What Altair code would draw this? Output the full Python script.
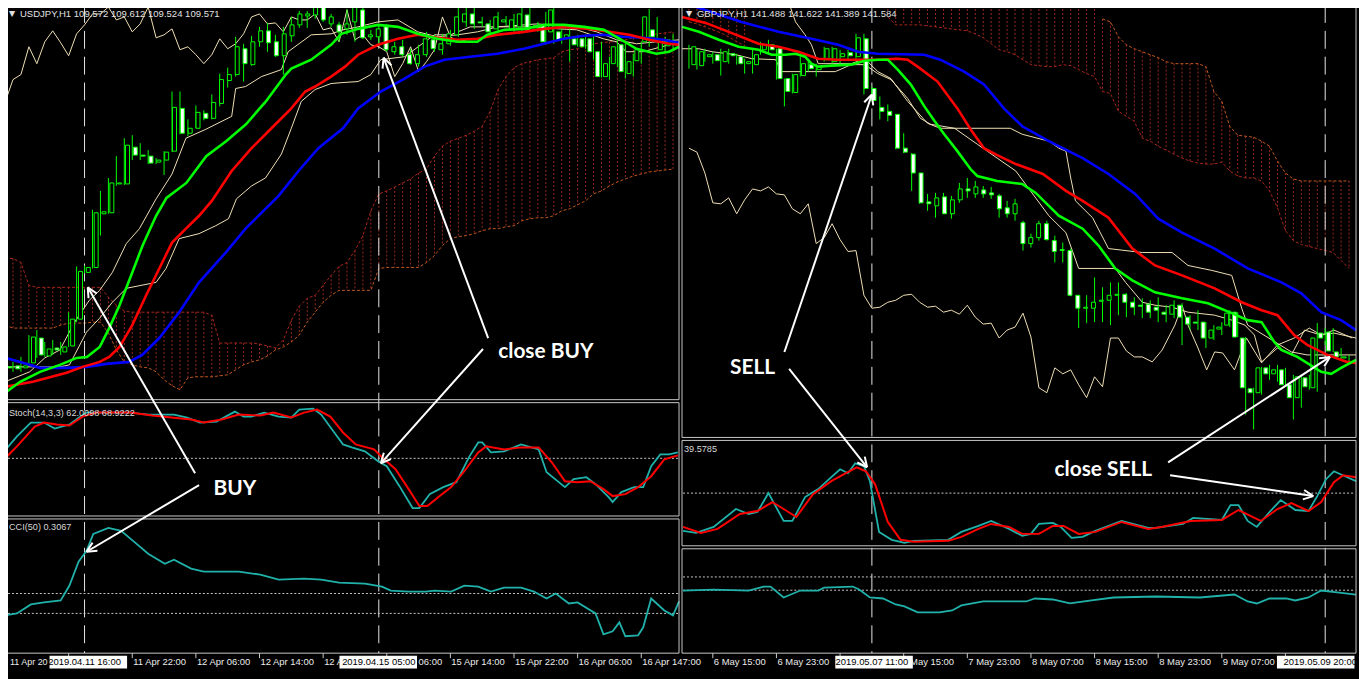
import math
import altair as alt
import pandas as pd

# ====================== USDJPY,H1 (left window) ======================
# bar 0 = 2019.04.11 06:00, one bar per hour
usd_open = [
    108.33, 108.34, 108.32, 108.37, 108.62, 108.44, 108.52, 108.48, 108.54, 108.81,
    109.28, 109.33, 109.87, 109.88, 110.17, 110.17, 110.54, 110.46, 110.45, 110.39,
    110.41, 110.50, 110.93, 110.68, 110.73, 110.88, 110.83, 110.98, 111.21, 111.27,
    111.53, 111.37, 111.60, 111.71, 111.60, 111.46, 111.66, 111.77, 111.86, 111.87,
    111.97, 111.78, 111.77, 111.73, 111.80, 111.92, 111.65, 111.65, 111.75, 111.50,
    111.55, 111.47, 111.38, 111.47, 111.62, 111.52, 111.58, 111.67, 111.80, 111.88,
    111.80, 111.78, 111.73, 111.80, 111.73, 111.75, 111.87, 111.76, 111.77, 111.70,
    111.70, 111.63, 111.63, 111.63, 111.63, 111.50, 111.25, 111.38, 111.57, 111.28,
    111.41, 111.60, 111.72, 111.52, 111.56]
usd_close = [
    108.32, 108.31, 108.34, 108.63, 108.45, 108.51, 108.50, 108.53, 108.81, 109.29,
    109.33, 109.88, 109.89, 110.18, 110.18, 110.56, 110.46, 110.45, 110.38, 110.41,
    110.49, 110.94, 110.68, 110.73, 110.89, 110.83, 110.99, 111.22, 111.27, 111.55,
    111.38, 111.60, 111.71, 111.59, 111.46, 111.68, 111.77, 111.88, 111.88, 111.95,
    111.82, 111.85, 111.70, 111.78, 111.95, 111.64, 111.67, 111.73, 111.52, 111.55,
    111.47, 111.38, 111.47, 111.63, 111.53, 111.58, 111.68, 111.85, 111.88, 111.78,
    111.79, 111.70, 111.85, 111.82, 111.82, 111.88, 111.72, 111.74, 111.60, 111.92,
    111.62, 111.67, 111.57, 111.55, 111.50, 111.25, 111.38, 111.55, 111.30, 111.40,
    111.52, 111.85, 111.65, 111.60, 111.62]
usd_high = [
    108.38, 108.38, 108.43, 108.65, 108.70, 108.58, 108.60, 108.58, 108.88, 109.34,
    109.35, 109.91, 110.10, 110.23, 110.45, 110.63, 110.66, 110.58, 110.51, 110.43,
    110.50, 111.10, 111.10, 110.82, 110.96, 110.91, 111.07, 111.28, 111.34, 111.65,
    111.58, 111.66, 111.75, 111.79, 111.67, 111.75, 111.85, 111.91, 111.91, 111.97,
    111.97, 111.88, 111.80, 111.93, 111.95, 111.95, 111.72, 111.78, 111.78, 111.60,
    111.62, 111.53, 111.57, 111.70, 111.67, 111.68, 111.72, 111.95, 111.95, 111.95,
    111.85, 111.82, 111.90, 111.86, 111.88, 111.94, 111.95, 111.80, 111.90, 111.95,
    111.75, 111.75, 111.67, 111.67, 111.67, 111.60, 111.45, 111.62, 111.58, 111.48,
    111.60, 111.93, 111.85, 111.65, 111.68]
usd_low = [
    108.28, 108.28, 108.28, 108.35, 108.42, 108.43, 108.45, 108.45, 108.53, 108.78,
    109.27, 109.32, 109.65, 109.87, 110.15, 110.16, 110.41, 110.41, 110.37, 110.37,
    110.26, 110.49, 110.67, 110.65, 110.73, 110.81, 110.82, 110.95, 111.14, 111.25,
    111.20, 111.36, 111.55, 111.50, 111.45, 111.27, 111.60, 111.74, 111.74, 111.83,
    111.80, 111.75, 111.60, 111.67, 111.60, 111.63, 111.62, 111.57, 111.50, 111.47,
    111.45, 111.37, 111.35, 111.45, 111.50, 111.47, 111.56, 111.65, 111.75, 111.73,
    111.75, 111.68, 111.70, 111.76, 111.70, 111.71, 111.70, 111.70, 111.57, 111.58,
    111.58, 111.40, 111.55, 111.53, 111.42, 111.24, 111.22, 111.35, 111.23, 111.25,
    111.38, 111.55, 111.60, 111.50, 111.53]
usd_cloud_top = [
    109.42, 109.42, 109.38, 109.15, 109.13, 109.13, 109.13, 109.13, 109.13, 109.13,
    109.13, 109.13, 109.13, 109.03, 108.95, 108.89, 108.88, 108.88, 108.88, 108.88,
    108.88, 108.88, 108.88, 108.88, 108.88, 108.88, 108.85, 108.57, 108.57, 108.57,
    108.57, 108.57, 108.56, 108.54, 108.52, 108.60, 108.80, 108.94, 109.02, 109.05,
    109.15, 109.25, 109.34, 109.38, 109.50, 109.65, 109.90, 110.07, 110.10, 110.14,
    110.18, 110.22, 110.28, 110.32, 110.45, 110.55, 110.60, 110.63, 110.66, 110.70,
    110.75, 110.90, 111.12, 111.25, 111.34, 111.38, 111.40, 111.42, 111.43, 111.44,
    111.50, 111.52, 111.53, 111.56, 111.58, 111.59, 111.60, 111.60, 111.62, 111.64,
    111.65, 111.66, 111.68, 111.69, 111.70]
usd_cloud_bottom = [
    108.75, 108.72, 108.72, 108.72, 108.72, 108.72, 108.72, 108.75, 108.77, 108.77,
    108.77, 108.78, 108.78, 108.67, 108.50, 108.38, 108.35, 108.33, 108.32, 108.28,
    108.20, 108.14, 108.10, 108.22, 108.23, 108.23, 108.23, 108.24, 108.25, 108.30,
    108.35, 108.38, 108.40, 108.44, 108.50, 108.53, 108.58, 108.65, 108.78, 108.88,
    108.98, 109.05, 109.10, 109.10, 109.10, 109.10, 109.10, 109.32, 109.33, 109.33,
    109.33, 109.33, 109.33, 109.38, 109.45, 109.55, 109.62, 109.64, 109.65, 109.67,
    109.70, 109.72, 109.72, 109.74, 109.75, 109.80, 109.82, 109.83, 109.83, 109.85,
    109.90, 109.92, 109.96, 110.00, 110.07, 110.10, 110.15, 110.19, 110.22, 110.25,
    110.27, 110.29, 110.30, 110.31, 110.32]
usd_ma_green = [(0, 108.07), (1.9, 108.18), (4.4, 108.28), (6.9, 108.35), (9, 108.42), (10.3, 108.43),
    (11.9, 108.53), (13.1, 108.72), (14.4, 108.95), (16, 109.28), (17.3, 109.55), (19, 109.85),
    (20.3, 110.03), (22.8, 110.18), (25.3, 110.45), (27.8, 110.60), (30.3, 110.77), (32.8, 111.00),
    (35.3, 111.27), (36, 111.33), (38.5, 111.42), (41, 111.57), (42.3, 111.68), (44.4, 111.73),
    (46.9, 111.77), (49.4, 111.75), (51.9, 111.68), (54.4, 111.63), (56.9, 111.60), (59.4, 111.60),
    (60.6, 111.67), (62.8, 111.72), (65.3, 111.73), (67.8, 111.77), (70.3, 111.77), (72.8, 111.75),
    (75.3, 111.72), (77.3, 111.63), (79.4, 111.53), (81.9, 111.48), (83.5, 111.50), (84.75, 111.55)]
usd_ma_red = [(0, 108.13), (3.5, 108.18), (7.75, 108.27), (9.75, 108.33), (11.9, 108.38), (13.1, 108.43),
    (14.4, 108.53), (16, 108.75), (17.75, 109.05), (19.4, 109.32), (21, 109.58), (22.75, 109.72),
    (24.4, 109.85), (26, 110.00), (28.5, 110.30), (31, 110.53), (33.5, 110.73), (36, 110.93),
    (37.75, 111.10), (39, 111.15), (41, 111.25), (42.75, 111.35), (44.4, 111.47), (46.9, 111.57),
    (49.4, 111.63), (51.9, 111.67), (54.4, 111.64), (56.9, 111.62), (59.4, 111.63), (61.9, 111.67),
    (65.25, 111.70), (67.75, 111.73), (70.25, 111.75), (73.5, 111.73), (76, 111.70), (78.5, 111.67),
    (81, 111.62), (83.5, 111.58), (84.75, 111.57)]
usd_ma_blue = [(0, 108.42), (1.9, 108.38), (4.4, 108.32), (7.75, 108.32), (10.25, 108.33), (12.75, 108.36),
    (15.6, 108.38), (17.25, 108.45), (19.4, 108.62), (21.9, 108.88), (24.4, 109.18), (27.75, 109.48),
    (30.25, 109.72), (32.75, 109.92), (34.4, 110.05), (36.9, 110.30), (39.4, 110.53), (42.5, 110.73),
    (44.4, 110.93), (47.25, 111.10), (50.25, 111.23), (52.75, 111.35), (55.25, 111.42), (58.5, 111.45),
    (61.9, 111.48), (65.25, 111.53), (67.75, 111.58), (70.25, 111.63), (72.75, 111.66), (75.25, 111.67),
    (77.75, 111.65), (80.25, 111.64), (82.75, 111.62), (84.75, 111.59)]
usd_tenkan = [(0, 108.18), (3.1, 108.28), (5, 108.42), (6.9, 108.50), (8.75, 108.78), (10.6, 109.00),
    (11.9, 109.10), (13.5, 109.28), (15.25, 109.57), (16.9, 109.72), (19, 110.02), (21, 110.27),
    (22.75, 110.63), (25.25, 110.72), (28.5, 110.85), (29, 111.13), (30.25, 111.15), (32.25, 111.25),
    (34.75, 111.32), (35.6, 111.50), (38.5, 111.67), (41, 111.68), (42.5, 111.72), (44.4, 111.75),
    (46.9, 111.80), (49.4, 111.82), (51.9, 111.70), (54.4, 111.65), (56.9, 111.67), (59.4, 111.70),
    (61.9, 111.75), (66.9, 111.78), (71.9, 111.75), (74.4, 111.70), (76.9, 111.62), (79.4, 111.58),
    (81.9, 111.60), (84.75, 111.62)]
usd_kijun = [(0, 108.33), (6.9, 108.33), (8.1, 108.35), (10.25, 108.68), (11.9, 108.82), (13.5, 108.98),
    (15.25, 109.12), (19, 109.18), (20.25, 109.32), (21.9, 109.62), (24.4, 109.67), (26.5, 109.75),
    (28.1, 109.82), (29.1, 110.02), (31, 110.15), (32.75, 110.23), (34.75, 110.47), (36, 110.73),
    (37.25, 111.00), (39, 111.12), (41, 111.18), (42.5, 111.19), (44.4, 111.20), (46, 111.27),
    (47.25, 111.42), (50.25, 111.45), (54, 111.67), (56, 111.67), (58.5, 111.75), (65.25, 111.75),
    (71.9, 111.72), (75.25, 111.63), (76.9, 111.60), (78.1, 111.50), (80.25, 111.50), (83.5, 111.57),
    (84.75, 111.58)]
usd_chikou = usd_close[26:]          # closes drawn 26 bars back
usd_stoch_main = [(-0.1, 57), (1.5, 72), (3.25, 86), (4.9, 86), (6.25, 80), (8.1, 84), (9.5, 92),
    (10.25, 96), (12.5, 96), (15.75, 96), (18, 94), (21.25, 94), (22.9, 91), (24.5, 86), (26.6, 87),
    (28.9, 97), (30, 92), (31, 92), (32.6, 96), (34.4, 92), (36, 91), (37, 99), (38.75, 100),
    (39.75, 94), (41.4, 76), (42.5, 64), (43.6, 61), (45.25, 57), (46.9, 47), (48, 42), (49.6, 22),
    (51.25, 0), (52.1, 0), (53.4, 14), (55.1, 21), (56.75, 26), (58.4, 52), (59.5, 66), (60, 66),
    (61.1, 56), (62.75, 57), (64.9, 64), (67.1, 59), (68.1, 36), (70.4, 21), (71.5, 29), (73.1, 31),
    (74.25, 24), (75.9, 11), (76.4, 6), (77.5, 16), (79.1, 21), (80.25, 21), (81.25, 42), (82.4, 54),
    (83.5, 54), (84.6, 56)]
usd_stoch_signal = [(-0.1, 49), (1.5, 62), (3.75, 82), (4.9, 86), (6.5, 84), (8.1, 83), (9.75, 92),
    (11.4, 96), (15.75, 96), (18.5, 93), (23.4, 89), (25, 86), (27.25, 89), (29.4, 94), (32.1, 93),
    (33.75, 96), (36, 91), (37.6, 96), (39.25, 99), (40.9, 92), (42.5, 76), (44.1, 64), (46.4, 59),
    (47.4, 51), (49.1, 39), (50.75, 19), (52.1, 2), (53.1, 2), (54.5, 11), (56.1, 21), (57.75, 37),
    (59.5, 56), (60.5, 62), (62.75, 59), (64.9, 61), (67.1, 61), (68.75, 46), (70.4, 27), (72, 26),
    (73.6, 27), (75.25, 19), (76.4, 12), (78, 14), (79.6, 21), (81.25, 32), (82.9, 49), (84.6, 53)]
usd_cci = [(-0.1, -120), (1.5, -100), (3.25, -10), (4.9, 10), (7, 30), (8.1, 180), (9.25, 420),
    (10.25, 530), (11.1, 700), (13, 760), (14.6, 730), (16.25, 620), (18, 500), (20.1, 400),
    (21.25, 440), (23.4, 350), (25, 320), (29.4, 320), (32.1, 290), (34.4, 240), (37.6, 250),
    (39.75, 240), (42, 210), (45.25, 200), (47.4, 170), (48.5, 130), (50.75, 120), (52.9, 120),
    (54, 130), (56.1, 120), (57.75, 180), (59.5, 170), (61.1, 120), (62.75, 160), (64.9, 160),
    (66.5, 120), (68.1, 50), (69.25, 100), (70.9, 0), (72, 10), (74.25, -100), (75.25, -310),
    (76.4, -280), (77.25, -190), (78, -330), (79.6, -320), (80.25, -240), (81.25, 50), (82.9, -70),
    (84, -120), (84.75, 20)]
usd_ticks = [0, 8, 16, 24, 32, 40, 48, 56, 64, 72, 80]
# time labels as far as they can be seen (the rest lies under the date boxes or the window edge)
usd_labels_first = [(0, "11 Apr 20")]
usd_labels_full = [(16, "11 Apr 22:00"), (24, "12 Apr 06:00"), (32, "12 Apr 14:00"),
                   (40, "12 A"), (56, "15 Apr 14:00"), (64, "15 Apr 22:00"), (72, "16 Apr 06:00"),
                   (80, "16 Apr 14")]
usd_labels_tail = [(52, "06:00")]
usd_marks = [10, 47]
usd_mark_labels = ["2019.04.11 16:00", "2019.04.15 05:00"]
usd_title = "USDJPY,H1  109.572 109.612 109.524 109.571"
usd_stoch_title = "Stoch(14,3,3) 62.0098 68.9222"
usd_cci_title = "CCI(50) 0.3067"
usd_notes = ["BUY", "close BUY"]
usd_note_at = [(28.9, 107.10), (68.0, 108.48)]
usd_arrows = [(23.9, 107.26, 10.4, 109.13), (24.4, 107.14, 10.25, 106.47),
              (60.75, 108.62, 47.6, 111.44), (60.1, 108.51, 47.25, 107.36)]

# ====================== GBPJPY,H1 (right window) ======================
# bar 0 = 2019.05.06 12:00
gbp_open = [
    145.37, 145.36, 145.45, 145.47, 145.40, 145.48, 145.45, 145.38, 145.37, 145.52,
    145.57, 145.53, 145.23, 145.09, 145.26, 145.37, 145.32, 145.42, 145.40, 145.45,
    145.49, 145.45, 145.63, 145.13, 144.94, 144.90, 144.87, 144.53, 144.47, 144.28,
    143.99, 143.95, 144.04, 143.87, 144.01, 144.12, 144.07, 144.11, 144.08, 144.05,
    143.93, 143.87, 143.78, 143.57, 143.63, 143.77, 143.60, 143.51, 143.50, 143.05,
    142.92, 142.92, 142.99, 143.00, 143.05, 143.06, 142.98, 142.95, 142.96, 142.93,
    142.88, 142.86, 142.95, 142.83, 142.78, 142.78, 142.62, 142.71, 142.75, 142.88,
    142.62, 142.11, 142.07, 142.32, 142.26, 142.30, 142.15, 142.02, 142.22, 142.12,
    142.67, 142.68, 142.48, 142.42]
gbp_close = [
    145.55, 145.50, 145.47, 145.41, 145.50, 145.46, 145.38, 145.40, 145.47, 145.57,
    145.52, 145.23, 145.10, 145.27, 145.38, 145.33, 145.35, 145.53, 145.53, 145.48,
    145.46, 145.64, 145.13, 145.01, 144.90, 144.86, 144.53, 144.49, 144.28, 143.98,
    143.97, 144.03, 143.87, 144.01, 144.12, 144.10, 144.14, 144.07, 144.06, 143.92,
    143.87, 143.97, 143.57, 143.63, 143.77, 143.61, 143.49, 143.50, 143.05, 142.92,
    142.93, 142.98, 143.00, 143.05, 143.06, 142.98, 142.93, 142.94, 142.88, 142.90,
    142.86, 142.95, 142.83, 142.76, 142.77, 142.62, 142.70, 142.73, 142.87, 142.63,
    142.12, 142.07, 142.32, 142.26, 142.30, 142.15, 142.02, 142.23, 142.13, 142.62,
    142.62, 142.49, 142.43, 142.43]
gbp_high = [
    145.57, 145.53, 145.53, 145.50, 145.53, 145.53, 145.48, 145.43, 145.52, 145.60,
    145.62, 145.53, 145.23, 145.28, 145.45, 145.40, 145.38, 145.55, 145.55, 145.52,
    145.52, 145.68, 145.68, 145.15, 145.05, 144.97, 144.87, 144.68, 144.48, 144.28,
    144.07, 144.08, 144.08, 144.05, 144.18, 144.23, 144.20, 144.15, 144.14, 144.07,
    144.00, 144.02, 143.80, 143.67, 143.80, 143.80, 143.65, 143.58, 143.52, 143.05,
    143.05, 143.23, 143.13, 143.18, 143.18, 143.07, 143.03, 143.02, 143.00, 143.03,
    142.95, 143.00, 142.97, 142.85, 142.90, 142.78, 142.75, 142.78, 142.90, 142.88,
    142.63, 142.12, 142.33, 142.35, 142.35, 142.32, 142.25, 142.25, 142.25, 142.77,
    142.72, 142.72, 142.52, 142.45]
gbp_low = [
    145.33, 145.32, 145.40, 145.38, 145.26, 145.38, 145.37, 145.28, 145.28, 145.47,
    145.48, 145.22, 144.95, 145.08, 145.25, 145.30, 145.25, 145.40, 145.38, 145.38,
    145.42, 145.43, 145.07, 145.00, 144.82, 144.80, 144.52, 144.48, 144.10, 143.97,
    143.90, 143.83, 143.87, 143.82, 143.98, 144.03, 144.03, 144.03, 144.02, 143.83,
    143.83, 143.80, 143.50, 143.53, 143.60, 143.60, 143.38, 143.38, 143.04, 142.72,
    142.77, 142.78, 142.78, 142.75, 142.85, 142.83, 142.85, 142.82, 142.82, 142.78,
    142.78, 142.82, 142.55, 142.70, 142.70, 142.52, 142.60, 142.65, 142.73, 142.63,
    141.85, 141.70, 142.05, 142.20, 142.18, 142.14, 141.80, 141.92, 142.10, 142.08,
    142.55, 142.48, 142.40, 142.38]
# None in top = cloud continues above the window; None in bottom = no cloud shown
gbp_cloud_top = [None] * 52 + [
    145.83, 145.80, 145.65, 145.57, 145.53, 145.50, 145.47, 145.44, 145.40, 145.38,
    145.38, 145.38, 145.38, 145.35, 145.10, 145.00, 144.75, 144.66, 144.65, 144.64,
    144.60, 144.55, 144.40, 144.28, 144.22, 144.20, 144.20, 144.20, 144.20, 144.20,
    144.20, 144.20]
gbp_cloud_bottom = [145.80, 145.78, 145.75, 145.72, 145.69, 145.65, 145.60, 145.56] + [None] * 17 + [
    145.85, 145.77, 145.77, 145.77, 145.77, 145.76, 145.75, 145.74, 145.73, 145.72,
    145.71, 145.68, 145.64, 145.58, 145.52, 145.50, 145.47, 145.42, 145.37, 145.36,
    145.35, 145.35, 145.37, 145.36, 145.32, 145.28, 145.25, 145.10, 145.08, 144.90,
    144.85, 144.80, 144.63, 144.60, 144.55, 144.51, 144.47, 144.43, 144.40, 144.38,
    144.37, 144.37, 144.39, 144.30, 144.25, 144.23, 144.23, 144.20, 144.10, 143.93,
    143.70, 143.60, 143.56, 143.54, 143.52, 143.50, 143.48, 143.40, 143.32]
gbp_ma_green = [(-0.875, 145.75), (1.25, 145.70), (3.75, 145.62), (6.25, 145.55), (8.75, 145.52),
    (10.4, 145.47), (12.1, 145.47), (13.4, 145.48), (14.6, 145.45), (15.4, 145.38), (16.25, 145.35),
    (17.9, 145.36), (20.4, 145.37), (22.1, 145.41), (23.75, 145.42), (25, 145.42), (26.25, 145.32),
    (27.9, 145.17), (29.6, 144.95), (30.9, 144.80), (32.1, 144.67), (33.75, 144.50), (35.4, 144.32),
    (36.25, 144.25), (38.75, 144.20), (41.9, 144.17), (43.6, 144.08), (46.5, 143.85), (49.5, 143.72),
    (51.5, 143.55), (53.6, 143.32), (55.75, 143.20), (58.6, 143.08), (62, 143.02), (65.25, 142.97),
    (68.25, 142.87), (70.25, 142.80), (72, 142.78), (73.6, 142.58), (74.5, 142.50), (76.5, 142.43),
    (79.5, 142.28), (80.75, 142.26), (82, 142.32), (83.875, 142.40)]
gbp_ma_red = [(-0.875, 145.85), (2.1, 145.79), (5, 145.70), (8.75, 145.58), (11.25, 145.55),
    (13.75, 145.50), (16.25, 145.43), (18.75, 145.42), (21.25, 145.42), (23.75, 145.42),
    (26.25, 145.43), (27.5, 145.42), (28.75, 145.35), (31.25, 145.20), (33.75, 144.93),
    (35.4, 144.72), (37.1, 144.53), (38.75, 144.46), (41.1, 144.37), (44.5, 144.27), (47.4, 144.10),
    (49.5, 144.00), (52.75, 143.83), (55.75, 143.52), (58.6, 143.35), (62, 143.25), (66.1, 143.12),
    (69.5, 142.98), (72, 142.90), (74, 142.85), (76.1, 142.65), (77.75, 142.55), (80.25, 142.45),
    (82.75, 142.38), (83.875, 142.37)]
gbp_ma_blue = [(0.9, 145.95), (6.6, 145.80), (11.25, 145.70), (15.4, 145.63), (18.75, 145.57),
    (21.25, 145.50), (23.75, 145.48), (29.6, 145.47), (31.6, 145.42), (34.6, 145.30), (37.1, 145.17),
    (39.6, 144.93), (41.9, 144.75), (45.25, 144.60), (49.5, 144.43), (52.75, 144.27), (56.1, 144.07),
    (59, 143.82), (62, 143.68), (66.1, 143.52), (70.25, 143.32), (74.5, 143.18), (77, 143.07),
    (79.5, 142.88), (82, 142.80), (83.875, 142.70)]
gbp_tenkan = [(-0.875, 145.53), (1.25, 145.53), (2.9, 145.50), (5.9, 145.47), (7.9, 145.43),
    (10.9, 145.42), (11.6, 145.30), (18.4, 145.30), (20.4, 145.37), (22.1, 145.37), (23.75, 145.28),
    (25.4, 145.22), (27.5, 145.03), (29.1, 144.83), (30.4, 144.77), (33.4, 144.73), (36.25, 144.57),
    (38.75, 144.43), (41.1, 144.30), (45.25, 143.85), (47.4, 143.68), (49, 143.32), (53.6, 143.32),
    (54.9, 143.18), (57, 142.98), (58.6, 142.95), (60.75, 142.93), (62.75, 142.88), (66.1, 142.85),
    (68.25, 142.80), (69.9, 142.75), (71.1, 142.65), (72, 142.38), (74, 142.52), (75.75, 142.45),
    (77.4, 142.70), (79.5, 142.65), (81.1, 142.67), (83.875, 142.62)]
gbp_kijun = [(12.75, 145.95), (13.4, 145.80), (14.6, 145.67), (15.4, 145.57), (16.25, 145.38),
    (20.4, 145.38), (22.1, 145.43), (23.75, 145.30), (25.4, 145.23), (27.5, 145.00), (30, 144.78),
    (31.6, 144.73), (40.4, 144.73), (41.9, 144.67), (45.25, 144.60), (46.5, 144.53), (47.4, 144.50),
    (48, 144.23), (48.6, 144.00), (50.75, 143.83), (52.75, 143.52), (57, 143.48), (60.75, 143.48),
    (62.75, 143.35), (65.75, 143.30), (68.25, 143.25), (69.5, 142.92), (70.25, 142.75),
    (75.75, 142.48), (77.75, 142.45), (83.875, 142.45)]
gbp_chikou = gbp_close[26:]
gbp_chikou_tail = [(58.25, 142.38), (59.5, 142.50), (61.1, 142.75), (62, 142.95), (62.75, 142.75),
    (64, 142.52), (65.1, 142.30), (66.1, 142.48), (67.1, 142.47), (68.6, 142.30), (70.1, 142.62),
    (72, 142.37), (74, 142.55), (76.1, 142.62), (78, 142.72), (79.5, 142.65), (81.1, 142.70),
    (83.4, 142.62)]
gbp_stoch_main = [(-0.75, 12), (0.9, 10), (3.1, 16), (5.9, 34), (7.5, 29), (8.6, 31), (10, 50),
    (11.9, 22), (13, 22), (14.6, 46), (16.25, 54), (17.9, 66), (19, 74), (20, 70), (20.9, 80),
    (22, 77), (22.75, 62), (23.9, 11), (25.5, 3), (27.1, 0), (28.25, 2), (32.6, 3), (34.25, 11),
    (36.4, 17), (38, 22), (40.25, 14), (41.9, 7), (43, 9), (44, 19), (45.75, 20), (46.75, 16),
    (48.1, 5), (49.5, 6), (51.1, 12), (54.4, 22), (57.75, 15), (58.75, 15), (62.1, 19), (63.4, 25),
    (67, 23), (68.1, 38), (69.1, 38), (70.25, 22), (71.4, 16), (73, 31), (74.4, 43), (76.25, 33),
    (77.9, 32), (79, 47), (80.1, 64), (81.1, 72), (82.75, 66), (83.875, 62)]
gbp_stoch_signal = [(-0.75, 16), (1.5, 10), (3.6, 14), (6.4, 29), (8.6, 32), (10.5, 41), (11.9, 34),
    (13.5, 26), (15.6, 49), (17.9, 62), (19.5, 69), (21.1, 76), (22.25, 72), (23.4, 59), (25, 21),
    (26.6, 3), (28.25, 1), (32.6, 2), (34.25, 6), (36.4, 14), (38, 19), (40.25, 16), (41.9, 9),
    (44, 9), (45.75, 17), (47.1, 17), (49, 9), (51.1, 11), (54.4, 21), (57.75, 14), (59.4, 16),
    (63.1, 22), (67, 23), (69.1, 33), (71.9, 22), (74, 34), (75.75, 40), (77.9, 32), (79.5, 41),
    (81.1, 61), (82.25, 68), (83.875, 66)]
gbp_cci = [(-0.75, -105), (3.1, -90), (7.5, -105), (9.4, -45), (10.25, -45), (11.9, -210),
    (14, -105), (16.25, -105), (17, -60), (20.6, -45), (21.4, -90), (22.75, -210), (24.4, -225),
    (26, -315), (27.1, -345), (28.75, -435), (31.5, -435), (33.1, -405), (34.25, -330), (37, -270),
    (42.4, -270), (43.5, -225), (45.75, -240), (47.9, -300), (50.6, -255), (53.4, -210),
    (58.75, -195), (64.25, -210), (68.6, -165), (70.25, -270), (71.4, -300), (73, -225),
    (75.1, -225), (76.25, -255), (77.9, -210), (79.5, -105), (81.75, -135), (83.875, -165)]
gbp_ticks = [3, 11, 19, 27, 35, 43, 51, 59, 67, 75]
gbp_labels_full = [(3, "6 May 15:00"), (11, "6 May 23:00"), (35, "7 May 23:00"), (43, "8 May 07:00"),
                   (51, "8 May 15:00"), (59, "8 May 23:00"), (67, "9 May 07:00")]
gbp_labels_tail = [(-0.8, "7:00"), (27.8, "May 15:00")]
gbp_marks = [23, 80]
gbp_mark_labels = ["2019.05.07 11:00", "2019.05.09 20:00"]
gbp_title = "GBPJPY,H1  141.488 141.622 141.389 141.584"
gbp_stoch_title = "39.5785"
gbp_notes = ["SELL", "close SELL"]
gbp_note_at = [(8.0, 142.32), (52.1, 141.29)]
gbp_arrows = [(12.0, 142.48, 23.0, 145.07), (12.6, 142.31, 22.4, 141.32),
              (60.25, 141.37, 80.6, 142.43), (60.5, 141.24, 78.5, 141.03)]

# ====================== layout / style ======================
# the page puts the drawing 8 px from the corner; everything is laid out in page pixels
W, H = 1359, 671


def fx(r):
    return r - 8


def fy(r):
    return r - 8


def sc(domain, rng):
    return alt.Scale(domain=domain, range=rng, nice=False, zero=False)


CANDLE = "#00ff00"
HATCH = "#9a2a1e"
EDGE_RED = "#a8261c"
EDGE_ORANGE = "#c0581e"
BEIGE = "#efe0b4"
TEAL = "#20b2aa"
GRID = "#c8c8c8"
FONT = "Liberation Sans"
NOTE_FONT = "Lato"

LEFT = dict(
    xs=sc([-0.25, 84.75], [fx(3), fx(683)]),
    ps=sc([108.0, 111.97], [fy(400), fy(3)]),
    ss=sc([-8, 105], [fy(517), fy(404)]),
    cs=sc([-500, 840], [fy(655), fy(521)]),
    x0=5, p0=112.0, left=3, right=683,
    main=(3, 400), stoch=(403, 517), cci=(520, 655),
)
RIGHT = dict(
    xs=sc([-0.875, 83.875], [fx(686), fx(1364)]),
    ps=sc([141.62, 145.97], [fy(438), fy(3)]),
    ss=sc([-3, 103], [fy(547), fy(441)]),
    cs=sc([-1050, 525], [fy(655), fy(550)]),
    x0=693, p0=146.0, left=686, right=1364,
    main=(3, 438), stoch=(441, 547), cci=(550, 655),
)
ONE = pd.DataFrame({"k": [0]})


def X(s, f="bar"):
    return alt.X(f"{f}:Q", scale=s, axis=None)


def Y(s, f="val"):
    return alt.Y(f"{f}:Q", scale=s, axis=None)


def as_points(seq, start=0):
    out = []
    for k, v in enumerate(seq):
        if isinstance(v, tuple):
            out.append(v)
        else:
            out.append((start + k, v))
    return out


def line(seq, xs, ys, color, width, dash=None):
    df = pd.DataFrame(as_points(seq), columns=["bar", "val"])
    kw = dict(color=color, strokeWidth=width)
    if dash:
        kw["strokeDash"] = dash
    return alt.Chart(df).mark_line(**kw).encode(x=X(xs), y=Y(ys))


def runs(vals):
    rows, seg, prev = [], 0, False
    for i, v in enumerate(vals):
        if v is None:
            if prev:
                seg += 1
            prev = False
            continue
        rows.append((i, v, seg))
        prev = True
    return pd.DataFrame(rows, columns=["bar", "val", "seg"])


def cloud(top, bottom, C, top_color, bottom_color):
    ymax = C["ps"].domain[1]
    rows = [(i, (t if t is not None else ymax), b) for i, (t, b) in enumerate(zip(top, bottom)) if b is not None]
    df = pd.DataFrame(rows, columns=["bar", "top", "bot"])
    hatch = alt.Chart(df).mark_rule(color=HATCH, strokeWidth=1, strokeDash=[2, 2]).encode(
        x=X(C["xs"]), y=Y(C["ps"], "top"), y2="bot:Q")
    t_edge = [t if b is not None else None for t, b in zip(top, bottom)]
    e1 = alt.Chart(runs(t_edge)).mark_line(color=top_color, strokeWidth=1, strokeDash=[3, 2]).encode(
        x=X(C["xs"]), y=Y(C["ps"]), detail="seg:N")
    e2 = alt.Chart(runs(bottom)).mark_line(color=bottom_color, strokeWidth=1, strokeDash=[3, 2]).encode(
        x=X(C["xs"]), y=Y(C["ps"]), detail="seg:N")
    return [hatch, e1, e2]


def candles(o, h, l, c, C):
    df = pd.DataFrame({"bar": range(len(o)), "open": o, "high": h, "low": l, "close": c})
    wick = alt.Chart(df).mark_rule(color=CANDLE, strokeWidth=1).encode(
        x=X(C["xs"]), y=Y(C["ps"], "low"), y2="high:Q")
    body = alt.Chart(df).mark_bar(size=4, stroke=CANDLE, strokeWidth=1).encode(
        x=X(C["xs"]), y=Y(C["ps"], "open"), y2="close:Q",
        fill=alt.condition("datum.close < datum.open", alt.value("#ffffff"), alt.value("#000000")))
    return [wick, body]


def arrow_df(arrows, C):
    x0, p0 = C["x0"], C["p0"]
    rows = []
    for tb, tp, hb, hp in arrows:
        rows.append(dict(bar=tb, val=tp, bar2=hb, val2=hp))
        sx, sy = x0 + 8 * tb, (p0 - tp) * 100
        hx, hy = x0 + 8 * hb, (p0 - hp) * 100
        dx, dy = sx - hx, sy - hy
        ln = math.hypot(dx, dy)
        ux, uy = dx / ln, dy / ln
        for a in (0.45, -0.45):
            bx = hx + 11 * (ux * math.cos(a) - uy * math.sin(a))
            by = hy + 11 * (ux * math.sin(a) + uy * math.cos(a))
            rows.append(dict(bar=hb, val=hp, bar2=(bx - x0) / 8, val2=p0 - by / 100))
    return pd.DataFrame(rows)


def level(vals, ys, C):
    return alt.Chart(pd.DataFrame({"val": vals})).mark_rule(
        color=GRID, strokeWidth=1, strokeDash=[2, 2]).encode(
        x=alt.value(fx(C["left"] + 1)), x2=alt.value(fx(C["right"] - 1)), y=Y(ys))


def frame(C, span):
    return alt.Chart(ONE).mark_rect(filled=False, stroke=GRID, strokeWidth=1).encode(
        x=alt.value(fx(C["left"])), x2=alt.value(fx(C["right"])),
        y=alt.value(fy(span[0])), y2=alt.value(fy(span[1])))


def text_at(s, px, py, size=9.5, color="#d8d8d8", font=FONT):
    return alt.Chart(pd.DataFrame({"t": [s]})).mark_text(
        align="left", baseline="middle", font=font, fontSize=size, color=color).encode(
        x=alt.value(fx(px)), y=alt.value(fy(py)), text="t:N")


def column(C, d):
    L = []
    L += cloud(d["ctop"], d["cbot"], C, d["ctop_col"], d["cbot_col"])
    L.append(alt.Chart(pd.DataFrame({"bar": d["marks"]})).mark_rule(
        color="#e6e6e6", strokeWidth=1, strokeDash=[18, 8]).encode(
        x=X(C["xs"]), y=alt.value(fy(3)), y2=alt.value(fy(655))))
    for seq in d["beige"]:
        L.append(line(seq, C["xs"], C["ps"], BEIGE, 1))
    L += candles(d["o"], d["h"], d["l"], d["c"], C)
    L.append(line(d["blue"], C["xs"], C["ps"], "#0000ff", 2.6))
    L.append(line(d["red"], C["xs"], C["ps"], "#ff0000", 2.6))
    L.append(line(d["green"], C["xs"], C["ps"], "#00ff00", 2.6))
    # oscillators
    L.append(level([50], C["ss"], C))
    L.append(line(d["st_main"], C["xs"], C["ss"], TEAL, 1.8))
    L.append(line(d["st_sig"], C["xs"], C["ss"], "#ff0000", 2))
    L.append(level([100, -100], C["cs"], C))
    L.append(line(d["cci"], C["xs"], C["cs"], TEAL, 1.8))
    # window frames
    for span in (C["main"], C["stoch"], C["cci"]):
        L.append(frame(C, span))
    # annotations
    ad = arrow_df(d["arrows"], C)
    L.append(alt.Chart(ad).mark_rule(color="#ffffff", strokeWidth=2).encode(
        x=X(C["xs"]), x2="bar2:Q", y=Y(C["ps"]), y2="val2:Q"))
    nd = pd.DataFrame({"bar": [p[0] for p in d["note_at"]], "val": [p[1] for p in d["note_at"]],
                       "txt": d["notes"]})
    L.append(alt.Chart(nd).mark_text(font=NOTE_FONT, fontSize=21, fontWeight="bold", color="#ffffff",
                                     align="center", baseline="middle").encode(
        x=X(C["xs"]), y=Y(C["ps"]), text="txt:N"))
    return L


layers = []
layers += column(LEFT, dict(
    ctop=usd_cloud_top, cbot=usd_cloud_bottom, ctop_col=EDGE_RED, cbot_col=EDGE_ORANGE,
    marks=usd_marks, beige=[usd_tenkan, usd_kijun, usd_chikou],
    o=usd_open, h=usd_high, l=usd_low, c=usd_close,
    blue=usd_ma_blue, red=usd_ma_red, green=usd_ma_green,
    st_main=usd_stoch_main, st_sig=usd_stoch_signal, cci=usd_cci,
    arrows=usd_arrows, notes=usd_notes, note_at=usd_note_at))
layers += column(RIGHT, dict(
    ctop=gbp_cloud_top, cbot=gbp_cloud_bottom, ctop_col=EDGE_ORANGE, cbot_col=EDGE_RED,
    marks=gbp_marks, beige=[gbp_tenkan, gbp_kijun, as_points(gbp_chikou) + gbp_chikou_tail],
    o=gbp_open, h=gbp_high, l=gbp_low, c=gbp_close,
    blue=gbp_ma_blue, red=gbp_ma_red, green=gbp_ma_green,
    st_main=gbp_stoch_main, st_sig=gbp_stoch_signal, cci=gbp_cci,
    arrows=gbp_arrows, notes=gbp_notes, note_at=gbp_note_at))

# window headers
layers.append(text_at("\u25bc", 9, 12, size=8, color="#e0e0e0", font="DejaVu Sans"))
layers.append(text_at(usd_title, 20, 12, size=9.6, color="#e0e0e0"))
layers.append(text_at(usd_stoch_title, 9, 413, size=9.2))
layers.append(text_at(usd_cci_title, 9, 528, size=9.2))
layers.append(text_at("\u25bc", 690, 12, size=8, color="#e0e0e0", font="DejaVu Sans"))
layers.append(text_at(gbp_title, 701, 12, size=9.6, color="#e0e0e0"))
layers.append(text_at(gbp_stoch_title, 688, 450, size=9.2))

# time axis strip
LAB_Y = 664


def tick_marks(C, bars):
    return alt.Chart(pd.DataFrame({"bar": bars})).mark_rule(color=GRID, strokeWidth=1).encode(
        x=X(C["xs"]), y=alt.value(fy(655)), y2=alt.value(fy(660)))


def labels(C, items, dx=1, size=9.5):
    df = pd.DataFrame({"bar": [p[0] for p in items], "txt": [p[1] for p in items]})
    return alt.Chart(df).mark_text(align="left", baseline="middle", dx=dx, font=FONT, fontSize=size,
                                   color="#ececec").encode(
        x=X(C["xs"]), y=alt.value(fy(LAB_Y)), text="txt:N")


def box_layers(C, bars, texts, shift=0):
    df = pd.DataFrame({"bar": bars, "txt": texts})
    return [
        alt.Chart(df).mark_bar(size=78, color="#ffffff", xOffset=shift).encode(
            x=X(C["xs"]), y=alt.value(fy(657.5)), y2=alt.value(fy(670.5))),
        alt.Chart(df).mark_text(align="center", baseline="middle", font=FONT, fontSize=9.5,
                                color="#000000", dx=shift).encode(
            x=X(C["xs"]), y=alt.value(fy(LAB_Y)), text="txt:N"),
    ]


layers.append(tick_marks(LEFT, usd_ticks))
layers.append(tick_marks(RIGHT, gbp_ticks))
layers.append(labels(LEFT, usd_labels_first, dx=5, size=9))
layers.append(labels(LEFT, usd_labels_full))
layers.append(labels(LEFT, usd_labels_tail, dx=0))
layers.append(labels(RIGHT, gbp_labels_full))
layers.append(labels(RIGHT, gbp_labels_tail, dx=0))
layers += box_layers(LEFT, usd_marks, usd_mark_labels)
layers += box_layers(RIGHT, gbp_marks[:1], gbp_mark_labels[:1])
layers += box_layers(RIGHT, gbp_marks[1:], gbp_mark_labels[1:], shift=-5)

chart = alt.layer(*layers).resolve_scale(x="independent", y="independent").properties(
    width=W, height=H, background="#000000", padding=0,
    autosize=alt.AutoSizeParams(type="none"),
).configure_view(stroke=None)

chart.save("out.html", embed_options={"renderer": "svg", "actions": False})
